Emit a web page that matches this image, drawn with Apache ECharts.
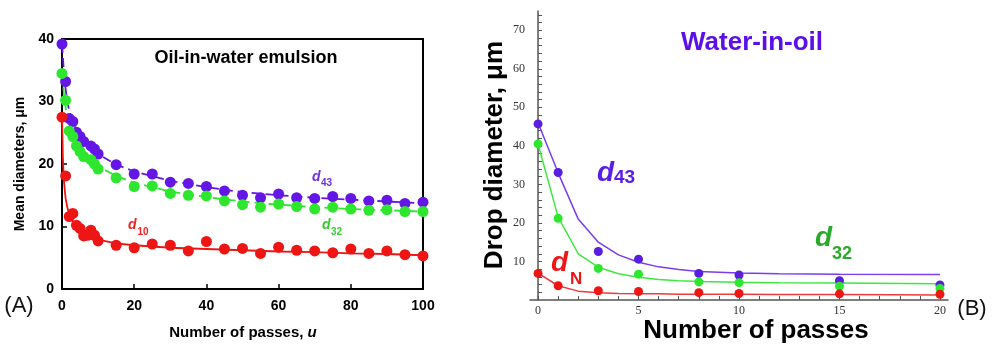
<!DOCTYPE html>
<html>
<head>
<meta charset="utf-8">
<script src="https://cdn.jsdelivr.net/npm/echarts@6/dist/echarts.min.js"></script>
<style>
html, body { margin: 0; padding: 0; background: #fff; }
#chart { width: 993px; height: 348px; }
</style>
</head>
<body>
<div id="chart"></div>
<script>
// (A) oil-in-water: measured points
const passesA43 = [0, 1, 2, 3, 4, 5, 6, 8, 9, 10, 15, 20, 25, 30, 35, 40, 45, 50, 55, 60, 65, 70, 75, 80, 85, 90, 95, 100];
const d43A = [39.2, 33.2, 27.3, 26.8, 25.1, 24.4, 23.6, 22.9, 22.4, 21.6, 19.9, 18.4, 18.4, 17.1, 16.9, 16.4, 15.7, 15.0, 14.6, 15.2, 14.6, 14.5, 14.8, 14.5, 14.1, 14.2, 13.7, 13.9];
const d32A = [34.5, 30.2, 25.3, 24.4, 22.9, 22.0, 21.2, 20.7, 20.0, 19.2, 17.8, 16.4, 16.5, 15.3, 15.0, 14.9, 14.1, 13.5, 13.1, 13.6, 13.2, 12.8, 13.1, 12.8, 12.6, 12.7, 12.4, 12.4];
const passesA10 = [0, 1, 2, 3, 4, 5, 6, 7, 8, 9, 10, 15, 20, 25, 30, 35, 40, 45, 50, 55, 60, 65, 70, 75, 80, 85, 90, 95, 100];
const d10A = [27.5, 18.1, 11.6, 12.1, 10.2, 9.7, 8.5, 8.6, 9.4, 8.6, 7.7, 7.0, 6.6, 7.2, 7.0, 6.1, 7.6, 6.4, 6.5, 5.7, 6.7, 6.2, 6.1, 5.8, 6.4, 5.7, 6.1, 5.5, 5.3];

// (A) fitted curves
const fitAx = [0, 0.5, 1, 1.5, 2, 3, 4, 5, 7, 10, 15, 20, 30, 40, 50, 60, 70, 80, 90, 100];
const fitA43 = [39.2, 35, 32, 30, 28.5, 26.8, 25.5, 24.6, 23.2, 21.6, 19.9, 18.8, 17.3, 16.3, 15.5, 15.0, 14.6, 14.3, 14.0, 13.7];
const fitA32 = [34.5, 31.5, 29, 27, 25.8, 24.3, 23.2, 22.3, 21, 19.6, 18.1, 17.0, 15.6, 14.7, 14.0, 13.5, 13.1, 12.8, 12.6, 12.4];
const fitA10x = [0, 0.25, 0.5, 1, 1.5, 2, 3, 4, 5, 7, 10, 15, 20, 30, 40, 50, 60, 70, 80, 90, 100];
const fitA10 = [27.5, 21, 17.5, 14.5, 13, 12, 10.8, 10, 9.4, 8.6, 7.9, 7.3, 7.0, 6.6, 6.4, 6.2, 6.0, 5.9, 5.7, 5.6, 5.4];

// (B) water-in-oil
const passesB = [0, 1, 3, 5, 8, 10, 15, 20];
const d43B = [45.7, 33.1, 12.6, 10.6, 6.9, 6.5, 5.0, 3.9];
const d32B = [40.5, 21.2, 8.2, 6.7, 4.7, 4.5, 3.6, 3.0];
const dNB = [6.9, 3.7, 2.4, 2.2, 1.9, 1.7, 1.6, 1.5];
const fitBx = [0, 1, 2, 3, 4, 5, 6, 7, 8, 10, 12, 15, 20];
const fitB43 = [46, 33, 21, 15, 11.7, 9.8, 8.6, 7.9, 7.4, 7.0, 6.8, 6.7, 6.6];
const fitB32 = [40.5, 21.5, 12, 8.5, 6.8, 5.9, 5.3, 5.0, 4.8, 4.6, 4.5, 4.4, 4.2];
const fitBN = [7, 3.7, 2.3, 1.9, 1.7, 1.6, 1.6, 1.5, 1.5, 1.5, 1.4, 1.4, 1.3];

// (B) axis ticks / labels
const ticksBx = [0, 1, 2, 3, 4, 5, 6, 7, 8, 9, 10, 11, 12, 13, 14, 15, 16, 17, 18, 19, 20];
const labelsBx = [0, 5, 10, 15, 20];
const ticksBy = [2, 4, 6, 8, 10, 12, 14, 16, 18, 20, 22, 24, 26, 28, 30, 32, 34, 36, 38, 40, 42, 44, 46, 48, 50, 52, 54, 56, 58, 60, 62, 64, 66, 68, 70, 72, 74];
const labelsBy = [10, 20, 30, 40, 50, 60, 70];

const PURPLE = '#6416e6';
const GREEN = '#2ee62e';
const RED = '#ee1515';

const zip = (xs, ys) => xs.map((x, i) => [x, ys[i]]);

const chart = echarts.init(document.getElementById('chart'));

const sans = 'Liberation Sans';
const lineA = (name, xs, ys, color, dashed) => ({
    name: name, type: 'line', xAxisIndex: 0, yAxisIndex: 0,
    data: zip(xs, ys), showSymbol: false, symbol: 'none',
    lineStyle: { color: color, width: 1.8, type: dashed ? [9, 5] : 'solid' },
    z: 2
});
const dotsA = (name, xs, ys, color) => ({
    name: name, type: 'scatter', xAxisIndex: 0, yAxisIndex: 0,
    data: zip(xs, ys), symbolSize: 11, itemStyle: { color: color, opacity: 1 }, z: 3
});
const lineB = (name, xs, ys, color) => ({
    name: name, type: 'line', xAxisIndex: 1, yAxisIndex: 1,
    data: zip(xs, ys), showSymbol: false, symbol: 'none',
    lineStyle: { color: color, width: 1.5 }, z: 2
});
const dotsB = (name, xs, ys, color) => ({
    name: name, type: 'scatter', xAxisIndex: 1, yAxisIndex: 1,
    data: zip(xs, ys), symbolSize: 9, itemStyle: { color: color, opacity: 1 }, z: 3
});

const txt = (text, x, y, font, fill, rot) => ({
    type: 'text', x: x, y: y, rotation: rot || 0, z: 100,
    style: {
        text: text, font: font, fill: fill,
        textAlign: 'center', textVerticalAlign: 'middle',
        align: 'center', verticalAlign: 'middle'
    }
});
const txtL = (text, x, y, font, fill) => ({
    type: 'text', x: x, y: y, z: 100,
    style: {
        text: text, font: font, fill: fill,
        textAlign: 'left', textVerticalAlign: 'middle',
        align: 'left', verticalAlign: 'middle'
    }
});

const option = {
    animation: false,
    backgroundColor: '#fff',
    grid: [
        { left: 62, top: 39, width: 361, height: 250, show: true, borderColor: '#000', borderWidth: 2, backgroundColor: 'transparent' },
        { left: 530, top: 11, width: 418, height: 289, show: false }
    ],
    xAxis: [
        {
            gridIndex: 0, type: 'value', min: 0, max: 100, interval: 20,
            axisLine: { lineStyle: { color: '#000', width: 2 } },
            axisTick: { inside: true, length: 5, lineStyle: { color: '#000', width: 1.5 } },
            axisLabel: { color: '#000', fontFamily: sans, fontWeight: 'bold', fontSize: 14, margin: 10 },
            splitLine: { show: false }
        },
        {
            gridIndex: 1, type: 'value', min: -0.4, max: 20.4,
            axisLine: { onZero: false, lineStyle: { color: '#555', width: 1.5 } },
            axisTick: { inside: true, length: 4, customValues: ticksBx, lineStyle: { color: '#555', width: 1 } },
            axisLabel: { customValues: labelsBx, color: '#333', fontFamily: 'Liberation Serif', fontSize: 12, margin: 5 },
            splitLine: { show: false }
        }
    ],
    yAxis: [
        {
            gridIndex: 0, type: 'value', min: 0, max: 40, interval: 10,
            axisLine: { lineStyle: { color: '#000', width: 2 } },
            axisTick: { inside: true, length: 5, lineStyle: { color: '#000', width: 1.5 } },
            axisLabel: { color: '#000', fontFamily: sans, fontWeight: 'bold', fontSize: 14, margin: 8 },
            splitLine: { show: false }
        },
        {
            gridIndex: 1, type: 'value', min: 0, max: 75,
            axisLine: { onZero: true, lineStyle: { color: '#555', width: 1.5 } },
            axisTick: { inside: true, length: 4, customValues: ticksBy, lineStyle: { color: '#555', width: 1 } },
            axisLabel: { customValues: labelsBy, color: '#333', fontFamily: 'Liberation Serif', fontSize: 12, margin: 5 },
            splitLine: { show: false }
        }
    ],
    series: [
        lineA('d43 fit', fitAx, fitA43, PURPLE, true),
        lineA('d32 fit', fitAx, fitA32, GREEN, true),
        lineA('d10 fit', fitA10x, fitA10, RED, false),
        dotsA('d43', passesA43, d43A, PURPLE),
        dotsA('d32', passesA43, d32A, GREEN),
        dotsA('d10', passesA10, d10A, RED),
        lineB('d43 fit B', fitBx, fitB43, '#7a3cf0'),
        lineB('d32 fit B', fitBx, fitB32, '#3ee83e'),
        lineB('dN fit B', fitBx, fitBN, '#ee3a3a'),
        dotsB('d43 B', passesB, d43B, '#5a1ee0'),
        dotsB('d32 B', passesB, d32B, '#2ee62e'),
        dotsB('dN B', passesB, dNB, RED)
    ],
    graphic: {
        elements: [
            txt('Oil-in-water emulsion', 246, 58, 'bold 18px Liberation Sans', '#000'),
            txt('Mean diameters, \u03bcm', 20, 164, 'bold 14px Liberation Sans', '#000', Math.PI / 2),
            {
                type: 'text', x: 243, y: 333, z: 100,
                style: {
                    text: '{n|Number of passes, }{i|u}',
                    textAlign: 'center', textVerticalAlign: 'middle', align: 'center', verticalAlign: 'middle',
                    rich: {
                        n: { font: 'bold 15px Liberation Sans', fill: '#000' },
                        i: { font: 'italic bold 15px Liberation Sans', fill: '#000' }
                    }
                }
            },
            txt('(A)', 19, 306, '22px Liberation Sans', '#111'),
            txtL('d', 312, 177, 'italic bold 14px Liberation Sans', '#7030e0'),
            txtL('43', 321, 183.5, 'bold 10px Liberation Sans', '#7030e0'),
            txtL('d', 322, 225.5, 'italic bold 14px Liberation Sans', '#33cc33'),
            txtL('32', 331, 231.8, 'bold 10px Liberation Sans', '#33cc33'),
            txtL('d', 128, 225.5, 'italic bold 14px Liberation Sans', '#ee2020'),
            txtL('10', 137.5, 231.8, 'bold 10px Liberation Sans', '#ee2020'),

            txt('Water-in-oil', 752, 43, 'bold 26px Liberation Sans', '#5b10e8'),
            txt('Drop diameter, \u03bcm', 495, 155, 'bold 26px Liberation Sans', '#000', Math.PI / 2),
            txt('Number of passes', 756, 331, 'bold 26px Liberation Sans', '#000'),
            txt('(B)', 972, 309, '22px Liberation Sans', '#111'),
            txtL('d', 597, 173, 'italic bold 28px Liberation Sans', '#5a1de6'),
            txtL('43', 614, 178, 'bold 19px Liberation Sans', '#5a1de6'),
            txtL('d', 815, 238, 'italic bold 28px Liberation Sans', '#2aaa2a'),
            txtL('32', 832, 254, 'bold 18px Liberation Sans', '#2aaa2a'),
            txtL('d', 551, 263, 'italic bold 28px Liberation Sans', RED),
            txtL('N', 570, 279, 'bold 17px Liberation Sans', RED)
        ]
    }
};

chart.setOption(option);
</script>
</body>
</html>
